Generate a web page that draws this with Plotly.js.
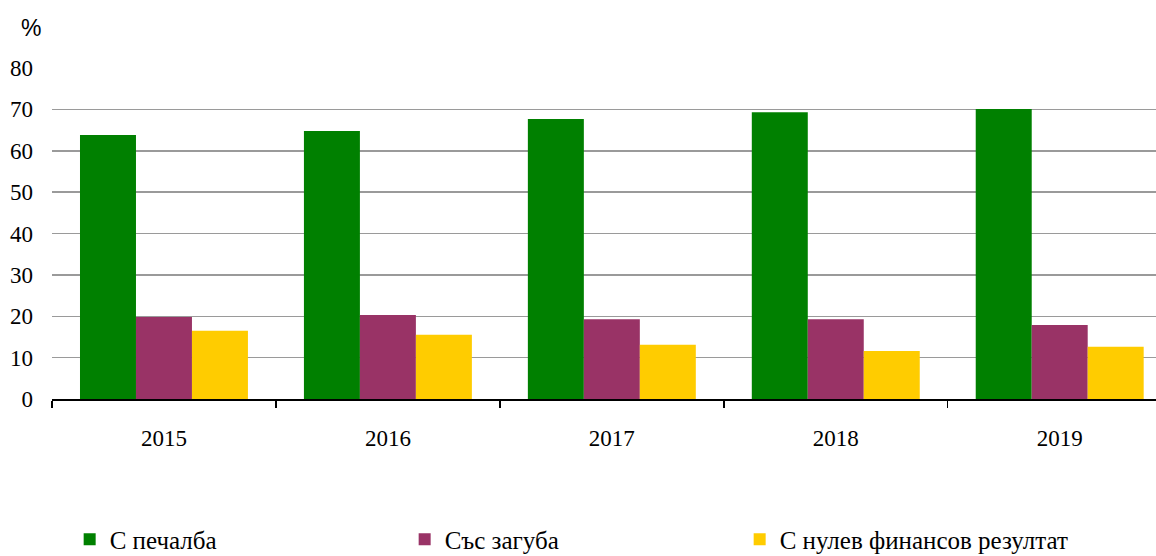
<!DOCTYPE html>
<html>
<head>
<meta charset="utf-8">
<script src="https://cdn.plot.ly/plotly-3.0.1.min.js"></script>
<style>html,body{margin:0;padding:0;background:#fff;}#chart{width:1156px;height:556px;}</style>
</head>
<body>
<div id="chart"></div>
<script>
const years = ["2015", "2016", "2017", "2018", "2019"];
const seriesNames = ["С печалба", "Със загуба", "С нулев финансов резултат"];
const profit = [63.8, 64.8, 67.7, 69.3, 70.1];
const loss = [19.8, 20.3, 19.3, 19.3, 17.9];
const zero = [16.5, 15.5, 13.1, 11.6, 12.6];
const colors = ["#008000", "#993366", "#FFCC00"];
const yTicks = [0, 10, 20, 30, 40, 50, 60, 70, 80];

const serif = "'Liberation Serif', 'Times New Roman', serif";
const allValues = [profit, loss, zero];
const traces = allValues.map((vals, i) => ({
  type: "bar",
  x: years,
  y: vals,
  name: seriesNames[i],
  marker: {color: colors[i], line: {width: 0}},
  hoverinfo: "x+y+name"
}));

const layout = {
  width: 1156,
  height: 556,
  margin: {l: 52, r: 0, t: 68, b: 157, autoexpand: false},
  paper_bgcolor: "#fff",
  plot_bgcolor: "#fff",
  barmode: "group",
  bargap: 0.25,
  bargroupgap: 0,
  showlegend: true,
  font: {family: serif, size: 22, color: "#000"},
  xaxis: {
    type: "category",
    range: [-0.5, 4.43],
    tickson: "boundaries",
    ticks: "outside",
    ticklen: 7,
    tickwidth: 1.5,
    tickcolor: "#000",
    showline: true,
    linecolor: "#000",
    linewidth: 2,
    showgrid: false,
    zeroline: false,
    tickfont: {family: serif, size: 23, color: "#000"},
    ticklabelstandoff: 17
  },
  yaxis: {
    range: [0, 80],
    tickvals: yTicks,
    ticktext: yTicks.map(String),
    showgrid: true,
    gridcolor: "#9a9a9a",
    gridwidth: 1.5,
    showline: false,
    zeroline: false,
    ticks: "",
    tickfont: {family: serif, size: 23, color: "#000"},
    ticklabelstandoff: 18
  },
  legend: {
    orientation: "h",
    x: 0.016,
    xanchor: "left",
    y: -0.355,
    yanchor: "top",
    entrywidth: 290,
    entrywidthmode: "pixels",
    itemwidth: 30,
    font: {family: serif, size: 25, color: "#000"},
    bgcolor: "rgba(0,0,0,0)"
  },
  annotations: [{
    text: "%",
    xref: "paper", yref: "paper",
    x: -0.03, y: 1.12,
    xanchor: "left", yanchor: "middle",
    showarrow: false,
    font: {family: "'Liberation Sans', Arial, sans-serif", size: 23, color: "#000"}
  }]
};

Plotly.newPlot("chart", traces, layout, {displayModeBar: false, staticPlot: true});
</script>
</body>
</html>
